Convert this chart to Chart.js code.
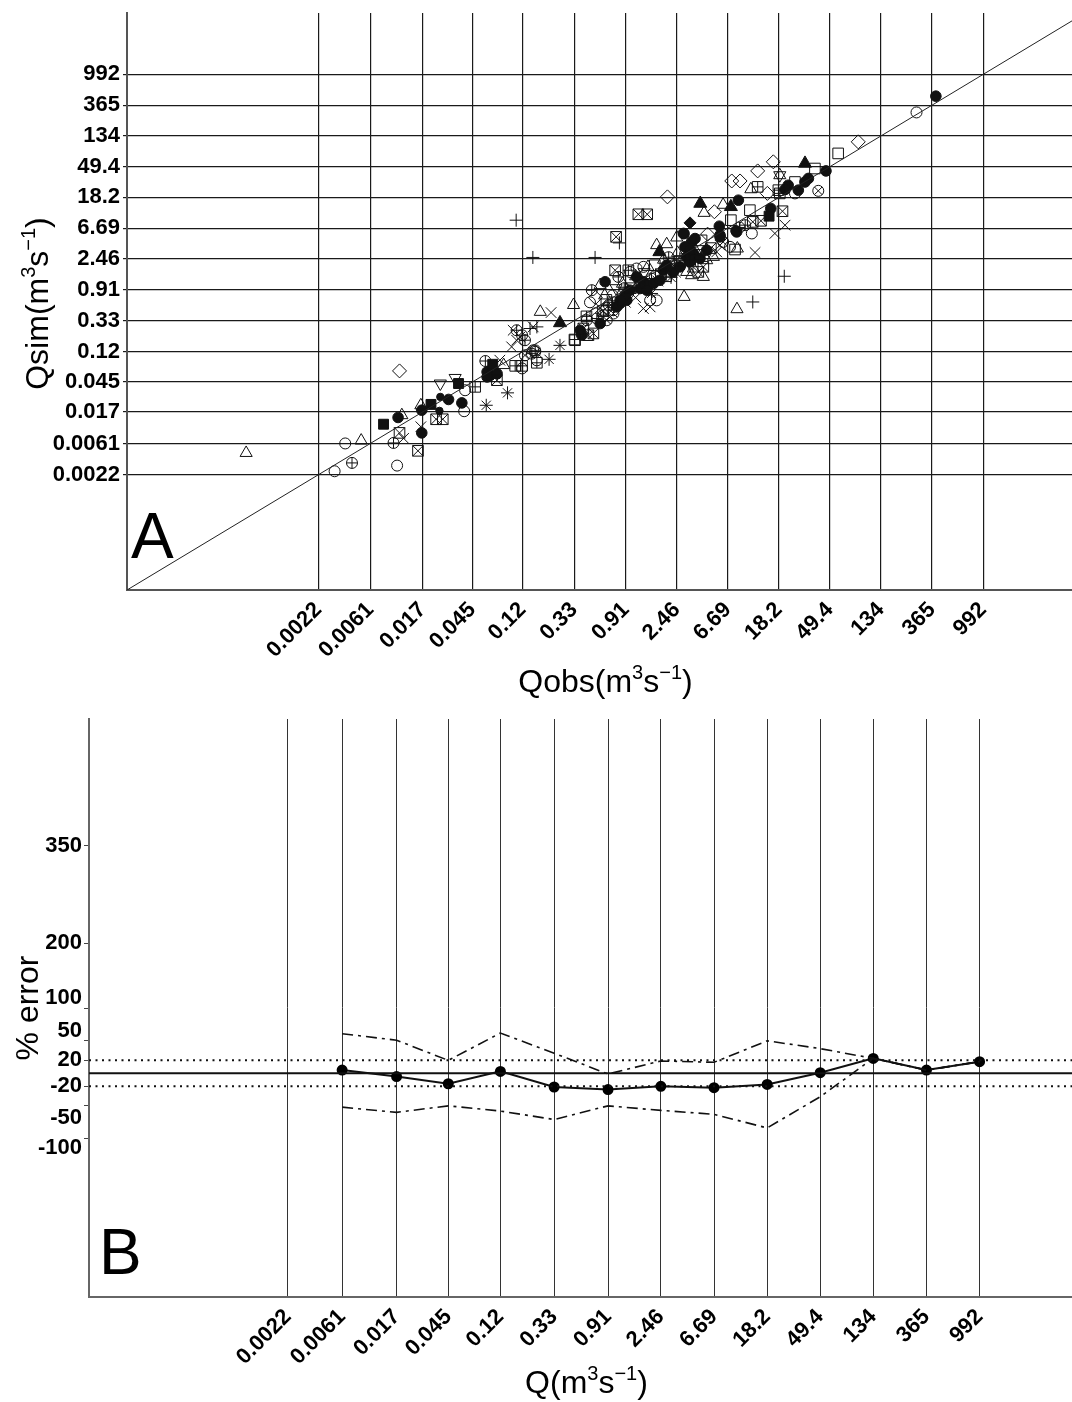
<!DOCTYPE html>
<html><head><meta charset="utf-8">
<script src="https://cdn.jsdelivr.net/npm/chart.js@4.4.1/dist/chart.umd.min.js"></script>
<style>
html,body{margin:0;padding:0;background:#fff;}
#wrap{position:relative;width:1072px;height:1402px;overflow:hidden;}
canvas{position:absolute;left:0;}
#ca{top:0;width:1072px;height:700px;}
#cb{top:700px;width:1072px;height:702px;}
</style></head><body>
<div id="wrap"><canvas id="ca" width="1072" height="700"></canvas><canvas id="cb" width="1072" height="702"></canvas></div>
<script>
// ---------- tick labels ----------
const qTickValues = [0.0022, 0.0061, 0.017, 0.045, 0.12, 0.33, 0.91, 2.46, 6.69, 18.2, 49.4, 134, 365, 992];
const qTickLabels = ['0.0022','0.0061','0.017','0.045','0.12','0.33','0.91','2.46','6.69','18.2','49.4','134','365','992'];
const errTickValues = [350, 200, 100, 50, 20, -20, -50, -100];
const errTickLabels = ['350','200','100','50','20','-20','-50','-100'];
const qRange = [5.2e-5, 5650];
const qSimRange = [5.2e-5, 7300];
const errRange = [-344, 545];

// ---------- Panel A: [Qobs, Qsim] by symbol ----------
const openCircle = [[0.00303,0.00247],[0.00373,0.0061],[0.0103,0.00297],[0.0383,0.0174],[0.039,0.0344],[0.119,0.070],[0.148,0.126],[0.154,0.120],[0.159,0.091],[0.986,1.61],[1.12,1.80],[1.28,1.90],[1.46,0.64],[1.66,0.64],[6.98,3.64],[10.7,5.63],[24.9,20.7],[269,288],[0.50,0.42],[0.62,0.50],[0.70,0.75],[0.95,0.80],[1.30,1.00],[1.60,1.40],[2.20,1.80],[2.70,2.20],[3.30,2.60],[0.45,0.60]];
const openTriangle = [[0.000536,0.00448],[0.0051,0.0067],[0.0113,0.0153],[0.0164,0.0211],[0.083,0.078],[0.17,0.44],[0.326,0.55],[0.549,1.05],[1.66,3.85],[2.02,3.97],[2.46,4.94],[4.2,11.0],[6.1,14.3],[2.84,0.715],[8.0,0.48],[8.06,3.45],[3.41,1.80],[4.42,2.36],[5.04,2.63],[2.99,1.61],[3.29,1.45],[10.5,23.7],[4.14,1.37],[0.60,0.75],[0.85,1.10],[1.10,1.40],[1.90,2.40],[2.50,3.00],[3.60,3.10],[1.40,1.90]];
const plusPts = [[0.106,8.67],[0.147,2.58],[0.497,2.58],[0.80,4.14],[10.9,0.607],[20.2,1.40],[0.139,0.256],[0.159,0.27]];
const crossPts = [[0.0117,0.0072],[0.0164,0.0105],[0.077,0.0914],[0.100,0.242],[0.114,0.194],[0.107,0.175],[0.148,0.270],[0.097,0.141],[0.21,0.43],[1.46,0.517],[1.28,0.49],[5.74,3.85],[5.38,3.09],[20.5,7.37],[16.8,5.63],[11.4,3.03],[0.55,0.50],[0.90,0.60],[1.70,1.20],[2.40,1.60],[3.00,2.00],[1.10,0.70]];
const openDiamond = [[0.0108,0.0645],[2.05,18.5],[16.3,57.8],[12.0,43.0],[7.22,31.0],[8.5,31.0],[14.5,20.7],[5.14,11.4],[86,110.7],[0.50,0.70],[4.5,5.5]];
const invTriangle = [[0.024,0.0428],[0.0321,0.0513],[0.75,0.95],[2.6,2.1],[1.3,1.6]];
const squareX = [[0.0108,0.0086],[0.0155,0.0048],[0.0221,0.0134],[0.0252,0.0134],[0.0727,0.0477],[1.16,10.5],[1.38,10.5],[0.75,5.04],[0.736,1.70],[4.14,1.90],[3.75,1.61],[19.5,11.6],[12.8,8.5],[10.9,8.2],[0.395,0.256],[0.436,0.206],[0.481,0.218],[0.58,0.45],[1.0,0.95],[1.8,1.5],[2.6,2.3],[3.8,2.8],[4.8,3.5]];
const asterisk = [[0.059,0.0211],[0.0895,0.0316],[0.202,0.094],[0.25,0.148],[1.5,0.8],[2.2,1.35]];
const circlePlus = [[0.00426,0.00324],[0.0096,0.0062],[0.058,0.089],[0.107,0.242],[0.119,0.206],[0.126,0.175],[0.154,0.126],[0.144,0.113],[0.466,0.89],[0.784,1.37],[0.423,0.335],[0.514,0.354],[0.585,0.395],[0.712,0.464],[9.4,7.37],[8.4,6.84],[0.65,0.55],[0.88,0.95],[1.5,1.3],[2.1,2.6],[2.9,2.9]];
const davidStar = [[18.5,37.4]];
const squarePlus = [[0.0475,0.0384],[0.104,0.076],[0.119,0.076],[0.159,0.084],[0.332,0.179],[0.954,1.70],[18.0,23.0],[18.5,20.7],[12.0,25.6],[0.42,0.38],[0.70,0.60],[1.2,1.15],[2.0,1.4],[3.2,2.4]];
const circleX = [[0.126,0.107],[39.3,22.5],[6.1,4.28],[0.625,0.335],[0.712,0.417],[0.9,0.7],[2.3,2.0]];
const filledSquare = [[0.0079,0.0114],[0.020,0.0217],[0.0343,0.0428],[0.067,0.080],[15.0,9.88]];
const filledCircle = [[0.0105,0.0142],[0.0167,0.0086],[0.0167,0.018],[0.0282,0.0255],[0.0366,0.0228],[0.060,0.053],[0.060,0.0625],[0.064,0.056],[0.073,0.059],[2.84,5.6],[3.29,4.28],[5.74,5.33],[7.95,5.92],[45.7,43.0],[32.4,33.7],[30.3,30.0],[26.6,23.0],[21.8,27.0],[20.5,23.5],[8.22,16.6],[15.5,12.7],[5.66,7.13],[7.85,6.13],[5.74,5.04],[2.8,5.63],[3.52,4.77],[2.89,3.64],[3.19,3.27],[1.12,1.37],[1.28,1.17],[1.41,1.05],[1.56,1.11],[1.77,1.23],[1.89,1.71],[2.02,2.01],[2.30,1.61],[2.62,1.90],[2.99,2.63],[3.19,2.23],[3.41,2.94],[3.88,2.50],[4.42,3.27],[0.81,0.577],[0.925,0.643],[0.76,0.517],[0.986,0.89],[1.20,0.94],[1.37,0.89],[0.605,1.17],[0.371,0.242],[0.383,0.206],[0.549,0.301],[393,489],[0.894,0.756],[0.811,0.643]];
const smallDot = [[0.024,0.0277],[0.0236,0.0176],[0.062,0.066],[0.0735,0.056]];
const filledTriangle = [[0.25,0.307],[3.9,14.9],[7.1,13.4],[1.75,3.09],[30.3,54.9]];
const filledDiamond = [[3.19,7.94]];
const openSquare = [[7.7,3.34],[58,76],[36.8,46.5],[24.9,30.0],[10.3,12.0],[7.1,8.67],[0.336,0.175],[0.62,0.65],[1.6,2.0],[4.0,4.5]];

// ---------- Panel B: % error by discharge class ----------
const errQ = [0.0061, 0.017, 0.045, 0.12, 0.33, 0.91, 2.46, 6.69, 18.2, 49.4, 134, 365, 992];
const errMean = [5, -5, -16, 3, -21, -25, -20, -22, -17, 1, 23, 5, 18];
const errUpper = [61, 51, 20, 62, 31, -1, 19, 17, 50, 38, 23, 5, 18];
const errLower = [-52, -60, -50, -58, -71, -50, -57, -63, -84, -36, 23, 5, 18];
const errRefLevels = [0, 20, -20];

// ---------- styling / helpers ----------
const FONT = '"Liberation Sans", Arial, Helvetica, sans-serif';
Chart.defaults.font.family = FONT;
Chart.defaults.color = '#000';
const INK = '#111';
const TICK_FONT = { size: 22, weight: 'bold' };

const toXY = arr => arr.map(p => ({x: p[0], y: p[1]}));
function part(data, style, r, filled, rot) {
  return {
    type: 'scatter', data: toXY(data), showLine: false,
    pointStyle: style, pointRadius: r, pointHoverRadius: r,
    pointRotation: rot || 0,
    pointBorderColor: INK, pointBorderWidth: 1,
    pointBackgroundColor: filled ? INK : 'rgba(0,0,0,0)'
  };
}
const symbolSets = [
  [openCircle, [['circle',5.5]]],
  [openTriangle, [['triangle',7]]],
  [plusPts, [['cross',6.5]]],
  [crossPts, [['crossRot',7.5]]],
  [openDiamond, [['rectRot',7]]],
  [invTriangle, [['triangle',7,false,180]]],
  [squareX, [['rect',7.5],['crossRot',7.5]]],
  [asterisk, [['star',6.5]]],
  [circlePlus, [['circle',5.5],['cross',5.5]]],
  [davidStar, [['triangle',7],['triangle',7,false,180]]],
  [squarePlus, [['rect',7.5],['cross',5.3]]],
  [circleX, [['circle',5.5],['crossRot',5.5]]],
  [openSquare, [['rect',7.5]]],
  [filledSquare, [['rect',7,true]]],
  [filledCircle, [['circle',5.3,true]]],
  [smallDot, [['circle',3.7,true]]],
  [filledTriangle, [['triangle',7.5,true]]],
  [filledDiamond, [['rectRot',6,true]]]
];
const scatterDatasets = [];
symbolSets.forEach(([data, parts]) => parts.forEach(p => scatterDatasets.push(part(data, p[0], p[1], p[2], p[3]))));

function drawRich(ctx, parts, x, y, angle, size) {
  const base = size + 'px ' + FONT, sup = Math.round(size*0.64) + 'px ' + FONT;
  let total = 0;
  parts.forEach(([t, s]) => { ctx.font = s ? sup : base; total += ctx.measureText(t).width; });
  ctx.save();
  ctx.translate(x, y); ctx.rotate(angle);
  ctx.fillStyle = '#000'; ctx.textBaseline = 'alphabetic'; ctx.textAlign = 'left';
  let cx = -total/2;
  parts.forEach(([t, s]) => {
    ctx.font = s ? sup : base;
    ctx.fillText(t, cx, s ? -size*0.42 : 0);
    cx += ctx.measureText(t).width;
  });
  ctx.restore();
}
const unitParts = [['(m'],['3',1],['s'],['\u22121',1],[')']];

const logTicks = {
  afterBuildTicks: s => { s.ticks = qTickValues.map(v => ({value: v})); }
};
const fitX = h => s => { s.height = h; s.paddingLeft = 0; s.paddingRight = 0; };
const fitY = w => s => { s.width = w; s.paddingTop = 0; s.paddingBottom = 0; };

// ---------- Chart A ----------
const plotA = {
  id: 'plotA',
  afterDraw(chart) {
    const ctx = chart.ctx, a = chart.chartArea;
    drawRich(ctx, [['Qobs']].concat(unitParts), (a.left + a.right)/2 + 6, 692, 0, 32);
    drawRich(ctx, [['Qsim']].concat(unitParts), 48, (a.top + a.bottom)/2 + 2, -Math.PI/2, 32);
    ctx.save(); ctx.font = '64px ' + FONT; ctx.fillStyle = '#000';
    ctx.fillText('A', 131, 558); ctx.restore();
  }
};
new Chart(document.getElementById('ca'), {
  type: 'scatter',
  data: { datasets: [
    { type: 'line', data: [{x: qRange[0], y: qRange[0]}, {x: qSimRange[1], y: qSimRange[1]}],
      borderColor: '#222', borderWidth: 1, pointRadius: 0, fill: false, order: 0 }
  ].concat(scatterDatasets) },
  options: {
    responsive: false, animation: false, devicePixelRatio: 1,
    layout: { autoPadding: false, padding: { top: 13, right: 0, left: 0, bottom: 0 } },
    plugins: { legend: { display: false }, tooltip: { enabled: false } },
    scales: {
      x: {
        type: 'logarithmic', min: qRange[0], max: qRange[1], ...logTicks,
        afterFit: fitX(110),
        grid: { color: '#1a1a1a', lineWidth: 1.2, drawTicks: false },
        border: { display: true, color: '#555', width: 2 },
        ticks: { autoSkip: false, minRotation: 45, maxRotation: 45, padding: 7,
          font: TICK_FONT, color: '#000',
          callback: (v, i) => qTickLabels[i] }
      },
      y: {
        type: 'logarithmic', min: qSimRange[0], max: qSimRange[1], ...logTicks,
        afterFit: fitY(127),
        grid: { color: '#1a1a1a', lineWidth: 1.2, tickLength: 4 },
        border: { display: true, color: '#555', width: 2 },
        ticks: { autoSkip: false, padding: 3, font: TICK_FONT, color: '#000',
          callback: (v, i) => qTickLabels[i] }
      }
    }
  },
  plugins: [plotA]
});

// ---------- Chart B ----------
const errLabelNudge = {100: -10, 50: -10, '-50': 12, '-100': 10};
const plotB = {
  id: 'plotB',
  afterDraw(chart) {
    const ctx = chart.ctx, a = chart.chartArea, ys = chart.scales.y;
    ctx.save();
    ctx.font = 'bold 22px ' + FONT; ctx.fillStyle = '#000';
    ctx.textAlign = 'right'; ctx.textBaseline = 'middle';
    errTickValues.forEach((v, i) => {
      ctx.fillText(errTickLabels[i], a.left - 7, ys.getPixelForValue(v) + (errLabelNudge[v] || 0));
    });
    ctx.font = '64px ' + FONT; ctx.textAlign = 'left'; ctx.textBaseline = 'alphabetic';
    ctx.fillText('B', 99, 574);
    ctx.restore();
    drawRich(ctx, [['% error']], 38, (a.top + a.bottom)/2, -Math.PI/2, 32);
    drawRich(ctx, [['Q']].concat(unitParts), (a.left + a.right)/2 + 6, 693, 0, 32);
  }
};
const refLine = (lvl) => ({
  type: 'line', data: [{x: qRange[0], y: lvl}, {x: qRange[1], y: lvl}],
  borderColor: '#111', borderWidth: 2, pointRadius: 0,
  borderDash: lvl === 0 ? [] : [2, 4.5]
});
const seriesLine = (vals, dash, width, radius) => ({
  type: 'line', data: errQ.map((q, i) => ({x: q, y: vals[i]})),
  borderColor: '#111', borderWidth: width, borderDash: dash,
  pointRadius: radius, pointBackgroundColor: '#000', pointBorderColor: '#000', fill: false, tension: 0
});
new Chart(document.getElementById('cb'), {
  type: 'line',
  data: { datasets: errRefLevels.map(refLine).concat([
    seriesLine(errUpper, [11, 5, 3, 5], 1.6, 0),
    seriesLine(errLower, [11, 5, 3, 5], 1.6, 0),
    seriesLine(errMean, [], 2, 4.5)
  ]) },
  options: {
    responsive: false, animation: false, devicePixelRatio: 1,
    layout: { autoPadding: false, padding: { top: 19, right: 0, left: 0, bottom: 0 } },
    plugins: { legend: { display: false }, tooltip: { enabled: false } },
    scales: {
      x: {
        type: 'logarithmic', min: qRange[0], max: qRange[1], ...logTicks,
        afterFit: fitX(105),
        grid: { color: '#333', lineWidth: 1, drawTicks: false },
        border: { display: true, color: '#666', width: 2 },
        ticks: { autoSkip: false, minRotation: 45, maxRotation: 45, padding: 7,
          font: TICK_FONT, color: '#000',
          callback: (v, i) => qTickLabels[i] }
      },
      y: {
        type: 'linear', min: errRange[0], max: errRange[1],
        afterBuildTicks: s => { s.ticks = errTickValues.map(v => ({value: v})); },
        afterFit: fitY(89),
        grid: { drawOnChartArea: false, drawTicks: true, tickLength: 5, color: '#444' },
        border: { display: true, color: '#666', width: 2 },
        ticks: { display: false }
      }
    }
  },
  plugins: [plotB]
});
</script>
</body></html>
